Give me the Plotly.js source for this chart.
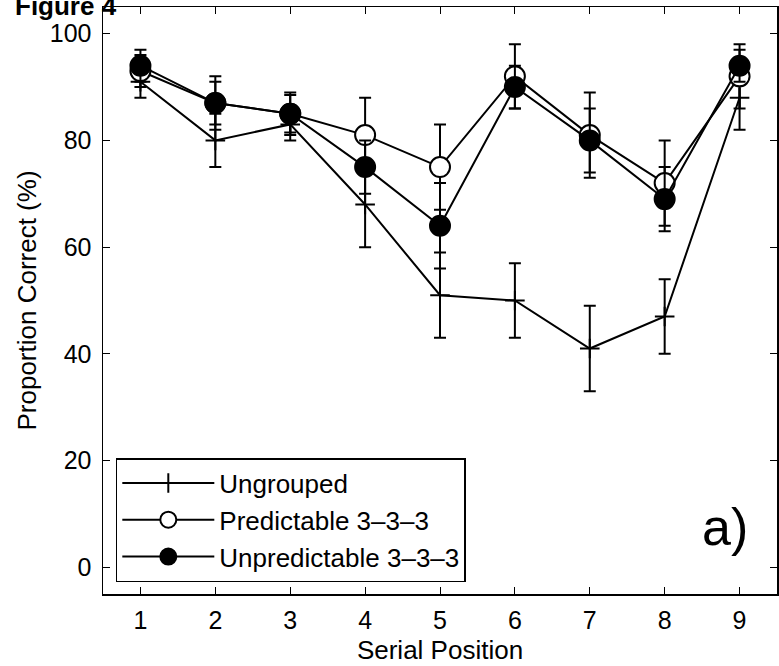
<!DOCTYPE html>
<html>
<head>
<meta charset="utf-8">
<script src="https://cdn.plot.ly/plotly-3.0.1.min.js"></script>
<style>html,body{margin:0;padding:0;background:#fff;}#chart{width:779px;height:666px;}</style>
</head>
<body>
<div id="chart"></div>
<script>
// Data
const serialPositions = [1, 2, 3, 4, 5, 6, 7, 8, 9];
const ungrouped = [91, 80, 83, 68, 51, 50, 41, 47, 88];
const ungroupedErr = [3, 5, 3, 8, 8, 7, 8, 7, 6];
const predictable = [93, 87, 85, 81, 75, 92, 81, 72, 92];
const predictableErr = [3, 5, 4, 7, 8, 6, 8, 8, 6];
const unpredictable = [94, 87, 85, 75, 64, 90, 80, 69, 94];
const unpredictableErr = [3, 4, 3.5, 5, 8, 4, 6, 6, 3];
const seriesNames = ['Ungrouped', 'Predictable 3\u20133\u20133', 'Unpredictable 3\u20133\u20133'];
const yTickValues = [0, 20, 40, 60, 80, 100];

const FONT = '"Liberation Sans", Arial, Helvetica, sans-serif';
function errBar(arr) {
  return {type: 'data', array: arr, visible: true, color: '#000', thickness: 2, width: 6};
}

const traces = [
  {
    x: serialPositions, y: ungrouped, name: seriesNames[0], type: 'scatter', mode: 'lines+markers',
    line: {color: '#000', width: 2},
    marker: {symbol: 'cross-thin-open', size: 14, color: '#000', line: {color: '#000', width: 2}},
    error_y: errBar(ungroupedErr)
  },
  {
    x: serialPositions, y: predictable, name: seriesNames[1], type: 'scatter', mode: 'lines+markers',
    line: {color: '#000', width: 2},
    marker: {symbol: 'circle', size: 20, color: '#fff', line: {color: '#000', width: 2}},
    error_y: errBar(predictableErr)
  },
  {
    x: serialPositions, y: unpredictable, name: seriesNames[2], type: 'scatter', mode: 'lines+markers',
    line: {color: '#000', width: 2},
    marker: {symbol: 'circle', size: 20, color: '#000', line: {color: '#000', width: 2}},
    error_y: errBar(unpredictableErr)
  }
];

const axisCommon = {
  showline: true, linecolor: '#000', linewidth: 1.5, mirror: 'ticks',
  ticks: 'inside', ticklen: 7, tickwidth: 1, tickcolor: '#000',
  showgrid: false, zeroline: false,
  tickfont: {family: FONT, size: 25, color: '#000'}
};

const layout = {
  width: 779, height: 666,
  margin: {l: 103, r: 2, t: 7, b: 72},
  paper_bgcolor: '#fff', plot_bgcolor: '#fff',
  font: {family: FONT, color: '#000'},
  showlegend: true,
  xaxis: Object.assign({}, axisCommon, {
    range: [0.5, 9.5], tickvals: serialPositions, ticktext: serialPositions.map(String),
    ticklabelstandoff: 3,
    title: {text: 'Serial Position', font: {family: FONT, size: 26, color: '#000'}, standoff: 8}
  }),
  yaxis: Object.assign({}, axisCommon, {
    range: [-5, 105], tickvals: yTickValues, ticktext: yTickValues.map(String),
    ticklabelstandoff: 5,
    title: {text: 'Proportion Correct (%)', font: {family: FONT, size: 26, color: '#000'}, standoff: 5}
  }),
  legend: {
    x: 0.019, y: 0.0204, xanchor: 'left', yanchor: 'bottom',
    bgcolor: '#fff', bordercolor: '#000', borderwidth: 1.5,
    font: {family: FONT, size: 26, color: '#000'},
    itemwidth: 92, tracegroupgap: 0
  },
  annotations: [
    {text: '<b>Figure 4</b>', xref: 'paper', yref: 'paper', x: -0.134, y: 1.002,
     xanchor: 'left', yanchor: 'middle', showarrow: false,
     font: {family: FONT, size: 26, color: '#000'}},
    {text: 'a)', xref: 'paper', yref: 'paper', x: 0.886, y: 0.114,
     xanchor: 'left', yanchor: 'middle', showarrow: false,
     font: {family: FONT, size: 52, color: '#000'}}
  ]
};

Plotly.newPlot('chart', traces, layout, {displayModeBar: false, staticPlot: true});
</script>
</body>
</html>
